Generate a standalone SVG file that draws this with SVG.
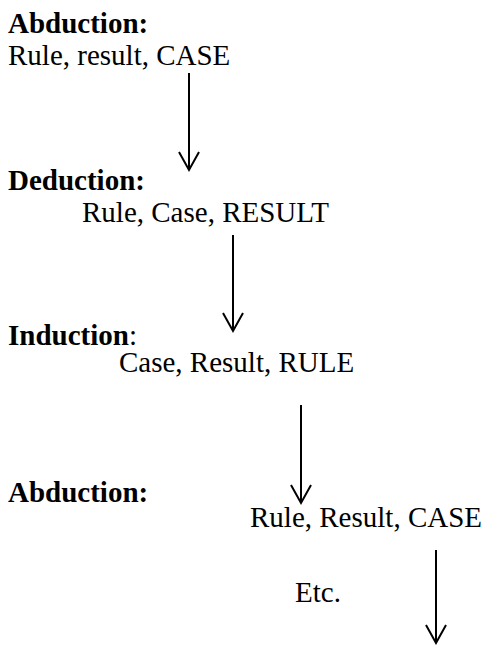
<svg xmlns="http://www.w3.org/2000/svg" width="485" height="645" viewBox="0 0 485 645">
<style>
text{font-family:"Liberation Serif","Times New Roman",serif;font-size:29px;fill:#000}
.b{font-weight:bold}
.c line,.c polyline{stroke:#000;stroke-width:2;fill:none}
</style>
<rect width="485" height="645" fill="#fff"/>
<g id="abduction1"><text class="b" x="8" y="33">Abduction:</text><text x="8" y="65">Rule, result, CASE</text></g>
<g id="deduction"><text class="b" x="8" y="190">Deduction:</text><text x="82" y="222">Rule, Case, RESULT</text></g>
<g id="induction"><text x="8" y="345"><tspan class="b">Induction</tspan>:</text><text x="119" y="372">Case, Result, RULE</text></g>
<g id="abduction2"><text class="b" x="8" y="502">Abduction:</text><text x="250" y="527">Rule, Result, CASE</text></g>
<g id="etc"><text x="295" y="602">Etc.</text></g>
<g class="c" id="connectors">
<line x1="189" y1="73" x2="189" y2="170"/><polyline points="179,152 189,170 199,152"/>
<line x1="233" y1="235" x2="233" y2="331"/><polyline points="223,313 233,331 243,313"/>
<line x1="301" y1="405" x2="301" y2="503"/><polyline points="291,485 301,503 311,485"/>
<line x1="436" y1="550" x2="436" y2="643"/><polyline points="426,625 436,643 446,625"/>
</g>
</svg>
